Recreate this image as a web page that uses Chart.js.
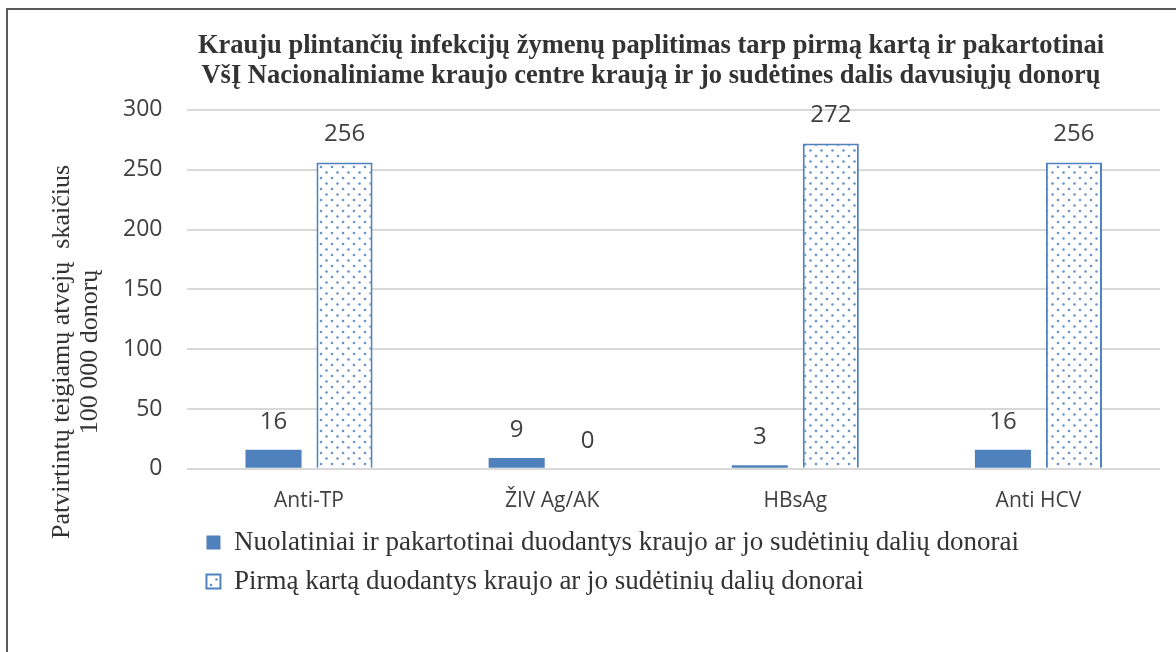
<!DOCTYPE html>
<html>
<head>
<meta charset="utf-8">
<script src="https://cdn.jsdelivr.net/npm/chart.js@4.4.1/dist/chart.umd.min.js"></script>
<style>
  html, body { margin: 0; padding: 0; background: #fff; }
  #frame {
    position: absolute; left: 6px; top: 8px; width: 1200px; height: 700px;
    border-left: 2px solid #595959; border-top: 2px solid #595959;
  }
  #wrap { position: absolute; left: 0; top: 0; width: 1176px; height: 652px; }
</style>
</head>
<body>
<div id="frame"></div>
<div id="wrap"><canvas id="barChart" width="1176" height="652"></canvas></div>
<script>
"use strict";

// chart data
const categories = ["Anti-TP", "ŽIV Ag/AK", "HBsAg", "Anti HCV"];
const repeatDonors = [16, 9, 3, 16];
const firstTimeDonors = [256, 0, 272, 256];
const seriesNames = [
  "Nuolatiniai ir pakartotinai duodantys kraujo ar jo sudėtinių dalių donorai",
  "Pirmą kartą duodantys kraujo ar jo sudėtinių dalių donorai",
];
const titleLines = [
  "Krauju plintančių infekcijų žymenų paplitimas tarp pirmą kartą ir pakartotinai",
  "VšĮ Nacionaliniame kraujo centre kraują ir jo sudėtines dalis davusiųjų donorų",
];
const yTitleLines = ["Patvirtintų teigiamų atvejų  skaičius", "100 000 donorų"];

const blue = "#4f81bd";

// dotted fill like the excel pattern
const makeDots = () => {
  const c = document.createElement("canvas");
  c.width = 11;
  c.height = 11;
  const g = c.getContext("2d");
  g.fillStyle = "#fff";
  g.fillRect(0, 0, 11, 11);
  g.fillStyle = "rgba(79,129,189,0.85)";
  [[2, 2], [7.5, 7.5]].forEach(([x, y]) => {
    g.beginPath();
    g.arc(x, y, 1.3, 0, Math.PI * 2);
    g.fill();
  });
  return g.createPattern(c, "repeat");
};

// numbers above the bars
const valueLabels = {
  id: "valueLabels",
  afterDatasetsDraw(chart) {
    const ctx = chart.ctx;
    ctx.save();
    ctx.font = "24px 'Open Sans'";
    ctx.fillStyle = "#404040";
    ctx.textAlign = "center";
    ctx.textBaseline = "middle";
    chart.data.datasets.forEach((ds, i) => {
      chart.getDatasetMeta(i).data.forEach((bar, j) => {
        ctx.fillText(String(ds.data[j]), bar.x, bar.y - 28);
      });
    });
    ctx.restore();
  },
};

// rotated y axis title (two lines)
const yTitle = {
  id: "yTitle",
  afterDraw(chart) {
    const ctx = chart.ctx;
    ctx.save();
    ctx.font = "26px 'Liberation Serif'";
    ctx.fillStyle = "#333";
    ctx.textAlign = "center";
    ctx.textBaseline = "middle";
    ctx.translate(62, 352);
    ctx.rotate(-Math.PI / 2);
    ctx.fillText(yTitleLines[0], 0, 0);
    ctx.fillText(yTitleLines[1], 0, 28);
    ctx.restore();
  },
};

// nudge legend and title to sit like the excel ones
const boxPlace = {
  id: "boxPlace",
  afterLayout(chart) {
    const lg = chart.legend;
    const dy = 517 - lg.top;
    lg.top += dy;
    lg.bottom += dy;
    lg.left += 7;
    lg.right += 7;
    const tb = chart.titleBlock;
    tb.left += 22;
    tb.right += 22;
  },
};

const container = document.getElementById("barChart");

new Chart(container, {
  type: "bar",
  data: {
    labels: categories,
    datasets: [
      {
        label: seriesNames[0],
        data: repeatDonors,
        backgroundColor: blue,
        borderColor: blue,
        borderWidth: 0,
      },
      {
        label: seriesNames[1],
        data: firstTimeDonors,
        backgroundColor: makeDots(),
        borderColor: blue,
        borderWidth: 2,
      },
    ],
  },
  options: {
    responsive: false,
    animation: false,
    devicePixelRatio: 1,
    categoryPercentage: 0.584,
    barPercentage: 0.79,
    layout: { padding: { left: 98, right: 16, top: 0, bottom: 38 } },
    scales: {
      x: {
        grid: { display: false },
        border: { display: false },
        ticks: { color: "#404040", font: { family: "Open Sans", size: 21 }, padding: 12 },
      },
      y: {
        min: 0,
        max: 300,
        ticks: { stepSize: 50, color: "#404040", font: { family: "Open Sans", size: 23 }, padding: 25 },
        grid: { color: "#d9d9d9", lineWidth: 2, drawTicks: false },
        border: { display: false },
      },
    },
    plugins: {
      title: {
        display: true,
        text: titleLines,
        color: "#333",
        font: { family: "Liberation Serif", size: 26.5, weight: "bold", lineHeight: 1.13 },
        padding: { top: 31, bottom: 19 },
      },
      legend: {
        position: "bottom",
        align: "start",
        fullSize: false,
        labels: {
          color: "#333",
          font: { family: "Liberation Serif", size: 27 },
          boxWidth: 14,
          boxHeight: 14,
          padding: 12,
        },
      },
      tooltip: { enabled: false },
    },
  },
  plugins: [valueLabels, yTitle, boxPlace],
});
</script>
</body>
</html>
